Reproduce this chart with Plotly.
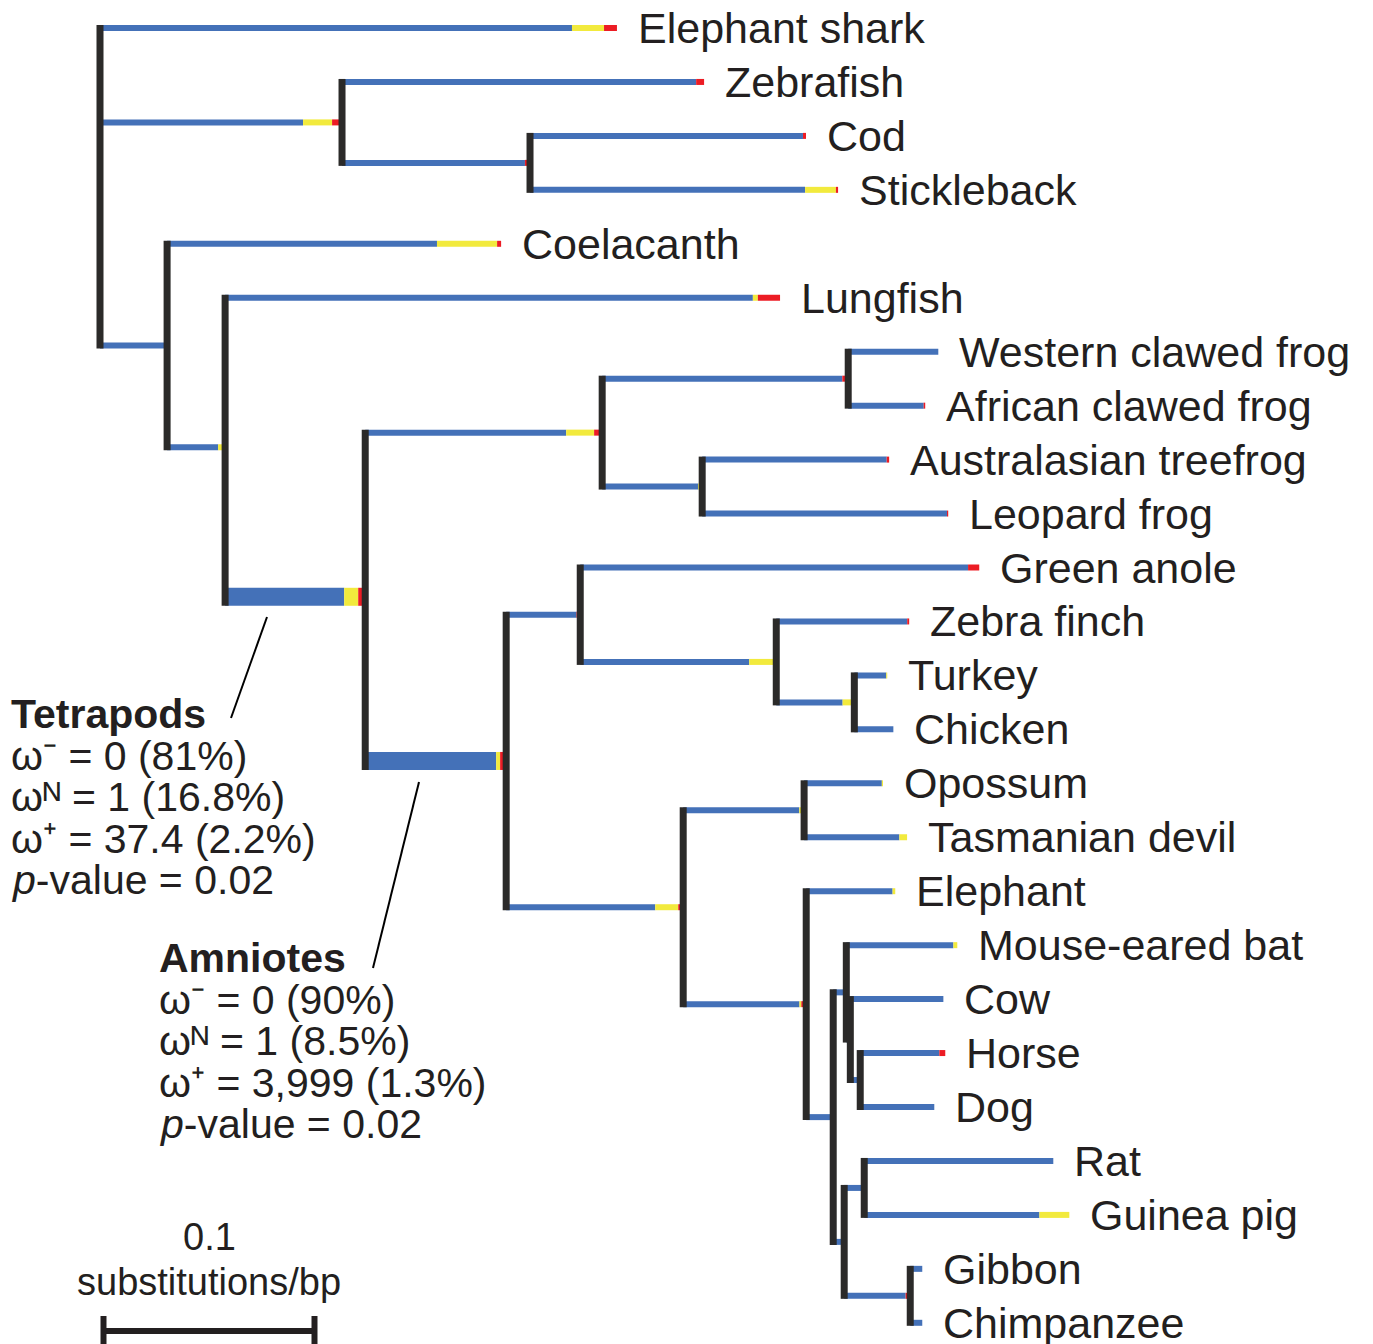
import plotly.graph_objects as go

# ---------------- DATA ----------------
leaf_order = ["Elephant shark", "Zebrafish", "Cod", "Stickleback", "Coelacanth", "Lungfish",
              "Western clawed frog", "African clawed frog", "Australasian treefrog", "Leopard frog",
              "Green anole", "Zebra finch", "Turkey", "Chicken", "Opossum", "Tasmanian devil",
              "Elephant", "Mouse-eared bat", "Cow", "Horse", "Dog", "Rat", "Guinea pig",
              "Gibbon", "Chimpanzee"]

node_names = ["Root", "Elephant shark", "Teleostei", "Zebrafish", "Cod+Stickleback", "Cod", "Stickleback",
              "Sarcopterygii", "Coelacanth", "Rhipidistia", "Lungfish", "Tetrapods", "Amphibia", "Xenopus",
              "Western clawed frog", "African clawed frog", "Neobatrachia", "Australasian treefrog",
              "Leopard frog", "Amniotes", "Sauropsida", "Green anole", "Aves", "Zebra finch", "Galliformes",
              "Turkey", "Chicken", "Mammalia", "Marsupialia", "Opossum", "Tasmanian devil", "Eutheria",
              "Elephant", "Boreoeutheria", "Laurasiatheria", "Mouse-eared bat", "Cow+Horse+Dog", "Cow",
              "Horse+Dog", "Horse", "Dog", "Euarchontoglires", "Glires", "Rat", "Guinea pig", "Primates",
              "Gibbon", "Chimpanzee"]

node_parents = [None, "Root", "Root", "Teleostei", "Teleostei", "Cod+Stickleback", "Cod+Stickleback",
                "Root", "Sarcopterygii", "Sarcopterygii", "Rhipidistia", "Rhipidistia", "Tetrapods", "Amphibia",
                "Xenopus", "Xenopus", "Amphibia", "Neobatrachia", "Neobatrachia", "Tetrapods", "Amniotes",
                "Sauropsida", "Sauropsida", "Aves", "Aves", "Galliformes", "Galliformes", "Amniotes",
                "Mammalia", "Marsupialia", "Marsupialia", "Mammalia", "Eutheria", "Eutheria", "Boreoeutheria",
                "Laurasiatheria", "Laurasiatheria", "Cow+Horse+Dog", "Cow+Horse+Dog", "Horse+Dog", "Horse+Dog",
                "Boreoeutheria", "Euarchontoglires", "Glires", "Glires", "Euarchontoglires", "Primates",
                "Primates"]

# branch lengths (substitutions/bp)
branch_lengths = [0.0, 0.2450, 0.1147, 0.1716, 0.0891, 0.1308, 0.1460,
                  0.0318, 0.1583, 0.0275, 0.2630, 0.0664, 0.1123, 0.1166,
                  0.0427, 0.0365, 0.0474, 0.0886, 0.1166, 0.0668, 0.0351,
                  0.1891, 0.0929, 0.0630, 0.0370, 0.0156, 0.0185, 0.0839,
                  0.0573, 0.0374, 0.0488, 0.0583, 0.0422, 0.0128, 0.0062,
                  0.0526, 0.0019, 0.0441, 0.0047, 0.0403, 0.0351, 0.0052,
                  0.0095, 0.0896, 0.0972, 0.0313, 0.0057, 0.0057]

# fraction of each branch in the neutral (yellow) and positive-selection (red) classes
frac_yellow = [0, 0.062, 0.12, 0, 0, 0, 0.10,
               0, 0.18, 0.12, 0.009, 0.10, 0.118, 0,
               0, 0, 0.04, 0, 0, 0.028, 0,
               0, 0.138, 0, 0.15, 0.03, 0, 0.13,
               0.04, 0.015, 0.075, 0.015, 0.03, 0, 0,
               0.035, 0, 0, 0, 0, 0, 0,
               0, 0, 0.146, 0, 0, 0]
frac_red = [0, 0.025, 0.041, 0.022, 0.027, 0.011, 0.007,
            0, 0.012, 0, 0.04, 0.05, 0.034, 0.024,
            0, 0.02, 0, 0.013, 0.005, 0.043, 0.05,
            0.028, 0, 0.015, 0, 0, 0, 0.028,
            0, 0, 0, 0.04, 0, 0, 0,
            0, 0, 0, 0, 0.07, 0, 0,
            0, 0, 0, 0.07, 0, 0]

tetrapod_text = ["<b>Tetrapods</b>", "ω⁻ = 0 (81%)", "ωᴺ = 1 (16.8%)",
                 "ω⁺ = 37.4 (2.2%)", "<i>p</i>-value = 0.02"]
amniote_text = ["<b>Amniotes</b>", "ω⁻ = 0 (90%)", "ωᴺ = 1 (8.5%)",
                "ω⁺ = 3,999 (1.3%)", "<i>p</i>-value = 0.02"]
scale_value = 0.1
scale_labels = ["0.1", "substitutions/bp"]

# ---------------- STYLE / LAYOUT ----------------
W, H = 1373, 1344
PX_PER_UNIT = 2110.0        # pixels per substitution/bp
ROOT_PX = 100.0
TOP_PX = 28.0
LEAF_SP = 53.95
BLUE, YELLOW, RED, DARK, TXT = "#4471B8", "#F2EA3D", "#EC1C24", "#2B2A29", "#231F20"
HW, THICK_W, VW = 6, 18, 7
THICK = {"Tetrapods", "Amniotes"}
FONT = "Liberation Sans, Arial, Helvetica, sans-serif"

def py_to_y(py):
    return (py - TOP_PX) / LEAF_SP

def px_to_x(px):
    return (px - ROOT_PX) / PX_PER_UNIT

# ---------------- TREE LAYOUT ----------------
children = {n: [] for n in node_names}
for n, p in zip(node_names, node_parents):
    if p is not None:
        children[p].append(n)

xpos = {}
for n, p, bl in zip(node_names, node_parents, branch_lengths):
    xpos[n] = 0.0 if p is None else xpos[p] + bl

ypos = {}
def get_y(n):
    if n in ypos:
        return ypos[n]
    if not children[n]:
        ypos[n] = float(leaf_order.index(n))
    else:
        ys = [get_y(c) for c in children[n]]
        ypos[n] = sum(ys) / len(ys)
    return ypos[n]
get_y("Root")

seg = {k: {"x": [], "y": []} for k in ["b", "y", "r", "bT", "yT", "rT"]}
def add(key, x0, x1, y):
    if x1 - x0 <= 0:
        return
    seg[key]["x"] += [x0, x1, None]
    seg[key]["y"] += [y, y, None]

for n, p, bl, fy, fr in zip(node_names, node_parents, branch_lengths, frac_yellow, frac_red):
    if p is None:
        continue
    x0, x1, y = xpos[p], xpos[n], ypos[n]
    xb = x1 - (fy + fr) * bl
    xy = x1 - fr * bl
    suf = "T" if n in THICK else ""
    add("b" + suf, x0, xb, y)
    add("y" + suf, xb, xy, y)
    add("r" + suf, xy, x1, y)

vx, vy = [], []
for n in node_names:
    ch = children[n]
    if not ch:
        continue
    tops = [(ypos[c] - ((THICK_W if c in THICK else HW) / 2) / LEAF_SP) for c in ch]
    bots = [(ypos[c] + ((THICK_W if c in THICK else HW) / 2) / LEAF_SP) for c in ch]
    vx += [xpos[n], xpos[n], None]
    vy += [min(tops), max(bots), None]

fig = go.Figure()
for key, col, w in [("b", BLUE, HW), ("y", YELLOW, HW), ("r", RED, HW),
                    ("bT", BLUE, THICK_W), ("yT", YELLOW, THICK_W), ("rT", RED, THICK_W)]:
    fig.add_trace(go.Scatter(x=seg[key]["x"], y=seg[key]["y"], mode="lines",
                             line=dict(color=col, width=w), hoverinfo="skip", showlegend=False))
fig.add_trace(go.Scatter(x=vx, y=vy, mode="lines", line=dict(color=DARK, width=VW),
                         hoverinfo="skip", showlegend=False))

# scale bar
sb_x0 = px_to_x(103.5)
sb_x1 = sb_x0 + scale_value
sb_y = py_to_y(1331)
tick_top, tick_bot = py_to_y(1316), py_to_y(1360)
fig.add_trace(go.Scatter(x=[sb_x0, sb_x1, None, sb_x0, sb_x0, None, sb_x1, sb_x1],
                         y=[sb_y, sb_y, None, tick_top, tick_bot, None, tick_top, tick_bot],
                         mode="lines", line=dict(color=TXT, width=6), hoverinfo="skip", showlegend=False))

annotations = []
for name in leaf_order:
    annotations.append(dict(x=xpos[name], y=ypos[name], xref="x", yref="y", text=name,
                            showarrow=False, xanchor="left", yanchor="middle", xshift=19,
                            font=dict(family=FONT, size=43, color=TXT)))

def block(lines, left_px, first_center_px, step_px, size):
    for i, t in enumerate(lines):
        annotations.append(dict(x=left_px / W, y=1 - (first_center_px + i * step_px) / H,
                                xref="paper", yref="paper", text=t, showarrow=False,
                                xanchor="left", yanchor="middle",
                                font=dict(family=FONT, size=size, color=TXT)))

block(tetrapod_text, 9, 714, 41.5, 41)
block(amniote_text, 157, 958, 41.5, 41)

sb_mid = (sb_x0 + sb_x1) / 2
annotations.append(dict(x=sb_mid, y=py_to_y(1237), xref="x", yref="y", text=scale_labels[0],
                        showarrow=False, xanchor="center", yanchor="middle",
                        font=dict(family=FONT, size=38, color=TXT)))
annotations.append(dict(x=sb_mid, y=py_to_y(1282), xref="x", yref="y", text=scale_labels[1],
                        showarrow=False, xanchor="center", yanchor="middle",
                        font=dict(family=FONT, size=38, color=TXT)))

shapes = []
for (xa, ya, xb2, yb) in [(267, 617, 231, 718), (419, 782, 373, 968)]:
    shapes.append(dict(type="line", xref="paper", yref="paper",
                       x0=xa / W, y0=1 - ya / H, x1=xb2 / W, y1=1 - yb / H,
                       line=dict(color="#000000", width=2)))

fig.update_layout(
    width=W, height=H, margin=dict(l=0, r=0, t=0, b=0),
    paper_bgcolor="white", plot_bgcolor="white",
    xaxis=dict(range=[px_to_x(0), px_to_x(W)], visible=False, fixedrange=True),
    yaxis=dict(range=[py_to_y(H), py_to_y(0)], visible=False, fixedrange=True),
    annotations=annotations, shapes=shapes, showlegend=False,
)

fig.write_html("out.html", config={"displayModeBar": False},
               post_script="document.body.style.margin='0';document.body.style.overflow='hidden';")
